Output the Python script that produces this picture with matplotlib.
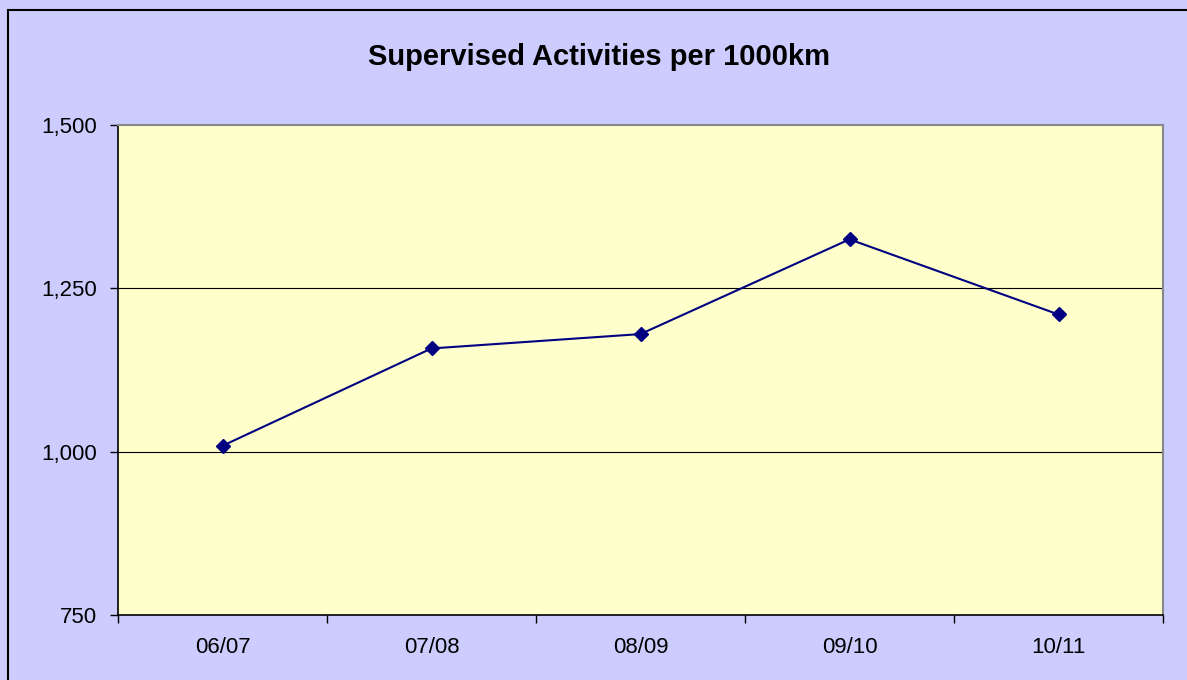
import numpy as np
import matplotlib
matplotlib.use("Agg")
import matplotlib.pyplot as plt
from matplotlib.patches import Rectangle
from matplotlib.ticker import FuncFormatter, FixedLocator

plt.rcParams["font.family"] = ["Liberation Sans", "DejaVu Sans"]

seasons = ["06/07", "07/08", "08/09", "09/10", "10/11"]
activities = [1009, 1158, 1180, 1325, 1210]
y_ticks = [750, 1000, 1250, 1500]

FIG_BG = "#CCCCFF"
PLOT_BG = "#FFFFCC"
LINE = "#000080"

fig = plt.figure(figsize=(11.87, 6.8), dpi=100, facecolor=FIG_BG)
# chart frame (only left/top edges fall inside the image)
fig.patches.append(Rectangle((8 / 1187, -0.05), 1.2, (680 - 10) / 680 + 0.05,
                             transform=fig.transFigure, fill=False,
                             edgecolor="black", linewidth=1.5))

ax = fig.add_axes([118 / 1187, 1 - 615 / 680, (1163 - 118) / 1187, (615 - 125) / 680])
ax.set_facecolor(PLOT_BG)

x = np.arange(len(seasons))
ax.plot(x, activities, color=LINE, linewidth=1.5, marker="D",
        markersize=7.5, markerfacecolor=LINE, markeredgecolor=LINE, zorder=3)

ax.set_xlim(-0.5, len(seasons) - 0.5)
ax.set_ylim(750, 1500)
ax.set_yticks(y_ticks)
ax.yaxis.set_major_formatter(FuncFormatter(lambda v, p: f"{v:,.0f}"))
for v in y_ticks[1:-1]:
    ax.axhline(v, color="black", linewidth=0.8, zorder=1)

# category boundary ticks, labels at centres
ax.xaxis.set_major_locator(FixedLocator(np.arange(-0.5, len(seasons), 1.0)))
ax.xaxis.set_major_formatter(FuncFormatter(lambda v, p: ""))
ax.xaxis.set_minor_locator(FixedLocator(x))
ax.set_xticklabels(seasons, minor=True)
ax.tick_params(axis="x", which="major", direction="out", length=6, width=1, color="black")
ax.tick_params(axis="x", which="minor", length=0, pad=16, labelsize=16)
ax.tick_params(axis="y", direction="out", length=6, width=1, color="black",
               pad=9, labelsize=16)

for side in ("left", "bottom"):
    ax.spines[side].set_color("black")
    ax.spines[side].set_linewidth(1.2)
for side in ("top", "right"):
    ax.spines[side].set_color("#888888")
    ax.spines[side].set_linewidth(1.5)

fig.text(599 / 1187, 1 - 57 / 680, "Supervised Activities per 1000km",
         ha="center", va="center", fontsize=21, fontweight="bold")

fig.savefig("out.png", dpi=100, facecolor=FIG_BG)
